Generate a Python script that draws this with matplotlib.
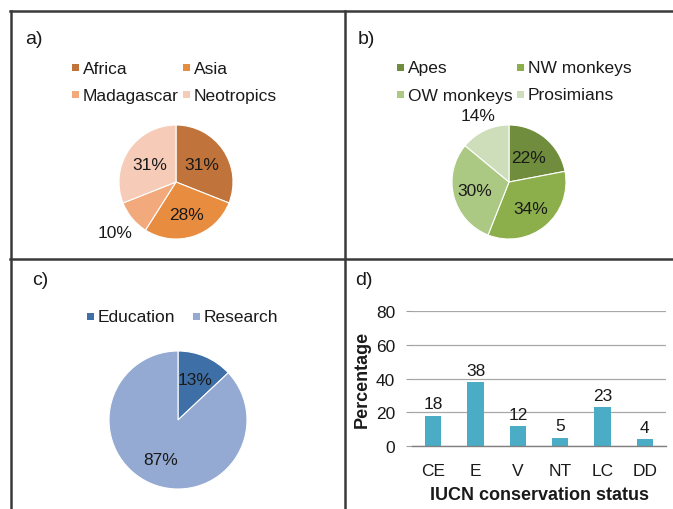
import matplotlib
matplotlib.use("Agg")
import matplotlib.pyplot as plt
from matplotlib.lines import Line2D

plt.rcParams['font.family'] = ['Liberation Sans', 'DejaVu Sans']

# ---- data ----
region_labels = ["Africa", "Asia", "Madagascar", "Neotropics"]
region_values = [31, 28, 10, 31]
region_colors = ["#C0733A", "#E88C40", "#F2AA7C", "#F6CBB7"]

taxon_labels = ["Apes", "NW monkeys", "OW monkeys", "Prosimians"]
taxon_values = [22, 34, 30, 14]
taxon_colors = ["#6F8D3C", "#8CAF4B", "#ABC982", "#CEDEBB"]

purpose_labels = ["Education", "Research"]
purpose_values = [13, 87]
purpose_colors = ["#3F6FA7", "#94AAD2"]

status_labels = ["CE", "E", "V", "NT", "LC", "DD"]
status_values = [18, 38, 12, 5, 23, 4]
bar_color = "#4BACC6"
y_ticks = [0, 20, 40, 60, 80]

W, H = 673, 510
fig = plt.figure(figsize=(W / 100, H / 100), dpi=100)
fig.patch.set_facecolor("white")

def px_axes(x0, y0, x1, y1):
    return fig.add_axes([x0 / W, 1 - y1 / H, (x1 - x0) / W, (y1 - y0) / H])

TXT = "#1a1a1a"
FS = 12.5

# frame lines
frame = fig.add_axes([0, 0, 1, 1])
frame.set_xlim(0, W)
frame.set_ylim(H, 0)
frame.axis("off")
lc = "#3a3a3a"
frame.add_line(Line2D([10, 673], [12, 12], color=lc, lw=1.8))
frame.add_line(Line2D([10.5, 10.5], [12, 510], color=lc, lw=1.8))
frame.add_line(Line2D([344.5, 344.5], [12, 510], color=lc, lw=1.8))
frame.add_line(Line2D([10, 673], [260, 260], color=lc, lw=1.8))

# panel letters
for lab, x, y in [("a)", 25, 40), ("b)", 358, 40), ("c)", 32, 281), ("d)", 355, 281)]:
    frame.text(x, y, lab, fontsize=14, color=TXT, va="center", ha="left")


def pie_panel(cx, cy, r, values, colors, dists):
    ax = px_axes(cx - r, cy - r, cx + r, cy + r)
    wedges, texts, autotexts = ax.pie(
        values, colors=colors, startangle=90, counterclock=False,
        autopct=lambda p: f"{p:.0f}%", pctdistance=1.0,
        wedgeprops=dict(edgecolor="white", linewidth=0.8),
        textprops=dict(fontsize=FS, color=TXT))
    for t, d in zip(autotexts, dists):
        x, y = t.get_position()
        t.set_position((x * d, y * d))
    ax.set_xlim(-1, 1)
    ax.set_ylim(-1, 1)
    ax.set_aspect("auto")
    return ax


def legend_rows(y0, labels, colors, colx, rowdy):
    for i, (lab, col) in enumerate(zip(labels, colors)):
        row, c = divmod(i, len(colx))
        x = colx[c]
        y = y0 + row * rowdy
        frame.add_patch(plt.Rectangle((x, y - 4), 7, 7, color=col, lw=0))
        frame.text(x + 11, y, lab, fontsize=FS, color=TXT, va="center", ha="left")


# a)
legend_rows(69, region_labels, region_colors, [72, 183], 27)
pie_panel(176, 183, 57, region_values, region_colors, [0.55, 0.6, 1.38, 0.55])

# b)
legend_rows(69, taxon_labels, taxon_colors, [397, 517], 27)
pie_panel(509, 183, 57, taxon_values, taxon_colors, [0.55, 0.6, 0.62, 1.28])

# c)
legend_rows(318, purpose_labels, purpose_colors, [87, 193], 27)
pie_panel(178, 421, 69, purpose_values, purpose_colors, [0.64, 0.63])

# d) bar chart
ax = px_axes(412, 312, 666, 447)
xs = list(range(len(status_labels)))
bars = ax.bar(xs, status_values, width=0.38, color=bar_color, zorder=3)
ax.bar_label(bars, labels=[str(v) for v in status_values], padding=3,
             fontsize=FS, color=TXT)
ax.set_xlim(-0.5, len(status_labels) - 0.5)
ax.set_ylim(0, 80)
ax.set_yticks(y_ticks)
ax.set_yticklabels([str(v) for v in y_ticks], fontsize=FS, color=TXT)
ax.set_xticks(xs)
ax.set_xticklabels(status_labels, fontsize=FS, color=TXT)
ax.tick_params(axis="x", length=0, pad=12)
ax.tick_params(axis="y", length=4, color="#a0a0a0", pad=8)
ax.grid(axis="y", color="#a8a8a8", lw=0.9, zorder=0)
for s in ["top", "right", "left"]:
    ax.spines[s].set_visible(False)
ax.spines["bottom"].set_color("#808080")
ax.spines["bottom"].set_linewidth(1.0)
ax.spines["bottom"].set_zorder(4)
ax.set_ylabel("Percentage", fontsize=13, fontweight="bold", color=TXT, labelpad=4)
ax.set_xlabel("IUCN conservation status", fontsize=13, fontweight="bold",
              color=TXT, labelpad=6)

fig.savefig("out.png", dpi=100)
